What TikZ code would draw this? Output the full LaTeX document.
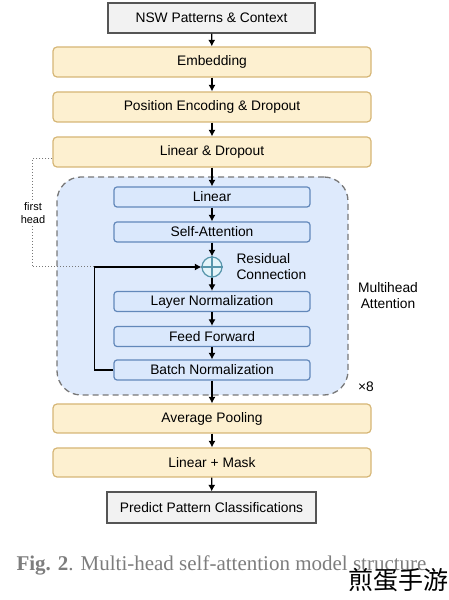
\documentclass[tikz,border=0pt]{standalone}
\usepackage{fontspec}
\setmainfont{Liberation Serif}
\setsansfont{Liberation Sans}
\newfontfamily\cjkfont{Noto Sans CJK SC}
\usetikzlibrary{arrows.meta,calc}

\begin{document}
\begin{tikzpicture}[x=1pt,y=1pt,>={Latex[length=6.5pt,width=7pt]},
 font=\sffamily\fontsize{13.8}{16}\selectfont,
 iobox/.style={draw=ioedge,fill=iofill,line width=1.2pt,minimum width=207pt,minimum height=30pt},
 stage/.style={draw=stageedge,fill=stagefill,line width=1.2pt,rounded corners=4pt,
  minimum width=318pt,minimum height=30pt},
 sub/.style={draw=subedge,fill=subfill,line width=1.2pt,rounded corners=3pt,
  minimum width=196pt,minimum height=20pt,inner sep=0pt},
 flow/.style={->,line width=1.2pt}]
\definecolor{iofill}{RGB}{242,242,242}
\definecolor{ioedge}{RGB}{85,85,85}
\definecolor{stagefill}{RGB}{253,240,208}
\definecolor{stageedge}{RGB}{214,182,118}
\definecolor{subfill}{RGB}{218,232,252}
\definecolor{subedge}{RGB}{98,136,186}
\definecolor{regionfill}{RGB}{222,234,252}
\definecolor{regionedge}{RGB}{120,120,120}
\definecolor{sumfill}{RGB}{228,244,250}
\definecolor{sumedge}{RGB}{88,150,172}
\definecolor{captext}{RGB}{125,125,125}
\useasboundingbox (0,0) rectangle (449,600);
% dashed block around the repeated attention layers
\node[draw=regionedge,fill=regionfill,line width=1.3pt,dash pattern=on 6pt off 4pt,
 rounded corners=24pt,minimum width=291pt,minimum height=218pt] (mha) at (202.5,314) {};
\node[iobox] (input) at (211.5,582) {NSW Patterns \& Context};
\node[stage] (embed) at (212,538) {Embedding};
\node[stage] (posenc) at (212,493) {Position Encoding \& Dropout};
\node[stage] (lindrop) at (212,448) {Linear \& Dropout};
\node[sub] (lin) at (212,403) {Linear};
\node[sub] (selfatt) at (212,368) {Self-Attention};
\node[circle,draw=sumedge,fill=sumfill,line width=1.2pt,minimum size=20pt,inner sep=0pt]
 (plus) at (212,333) {};
\draw[sumedge,line width=1.2pt] (plus.north)--(plus.south) (plus.west)--(plus.east);
\node[anchor=west,align=left] (rescon) at (233,333) {Residual\\Connection};
\node[sub] (layernorm) at (212,298.5) {Layer Normalization};
\node[sub] (ff) at (212,263.5) {Feed Forward};
\node[sub] (batchnorm) at (212,230) {Batch Normalization};
\node[stage,minimum height=29pt] (avgpool) at (212,181.5) {Average Pooling};
\node[stage,minimum height=29pt] (linmask) at (212,137.5) {Linear + Mask};
\node[iobox,minimum width=209pt,minimum height=31pt] (predict) at (211.5,92.5)
 {Predict Pattern Classifications};
\node[align=center] (mhalabel) at (388,304) {Multihead\\Attention};
\node (repeat) at (366,213) {×8};
\draw[flow] (input)--(embed);
\draw[flow] (embed)--(posenc);
\draw[flow] (posenc)--(lindrop);
\draw[flow] (lindrop)--(lin);
\draw[flow] (lin)--(selfatt);
\draw[flow] (selfatt)--(plus);
\draw[flow] (plus)--(layernorm);
\draw[flow] (layernorm)--(ff);
\draw[flow] (ff)--(batchnorm);
\draw[flow] (batchnorm)--(avgpool);
\draw[flow] (avgpool)--(linmask);
\draw[flow] (linmask)--(predict);
% skip path back into the sum
\coordinate (join) at ($(plus.west)+(-107,0)$);
\draw[flow] (batchnorm.west) -| (join) -- (plus.west);
\coordinate (tap) at ($(lindrop.west)+(0,-7)$);
\draw[dotted,line width=1pt,regionedge] (tap) -- ++(-20,0) |- (join);
\node[fill=white,inner sep=1pt,align=center,font=\sffamily\fontsize{11}{13}\selectfont]
 (headlabel) at (33,387) {first\\head};
\node[text=captext,font=\rmfamily\fontsize{21}{24}\selectfont] (caption) at (221.5,35)
 {\textbf{Fig. 2}. Multi-head self-attention model structure};
\node[font=\cjkfont\fontsize{25}{28}\selectfont] (mark) at (398,20) {煎蛋手游};
\end{tikzpicture}
\end{document}
